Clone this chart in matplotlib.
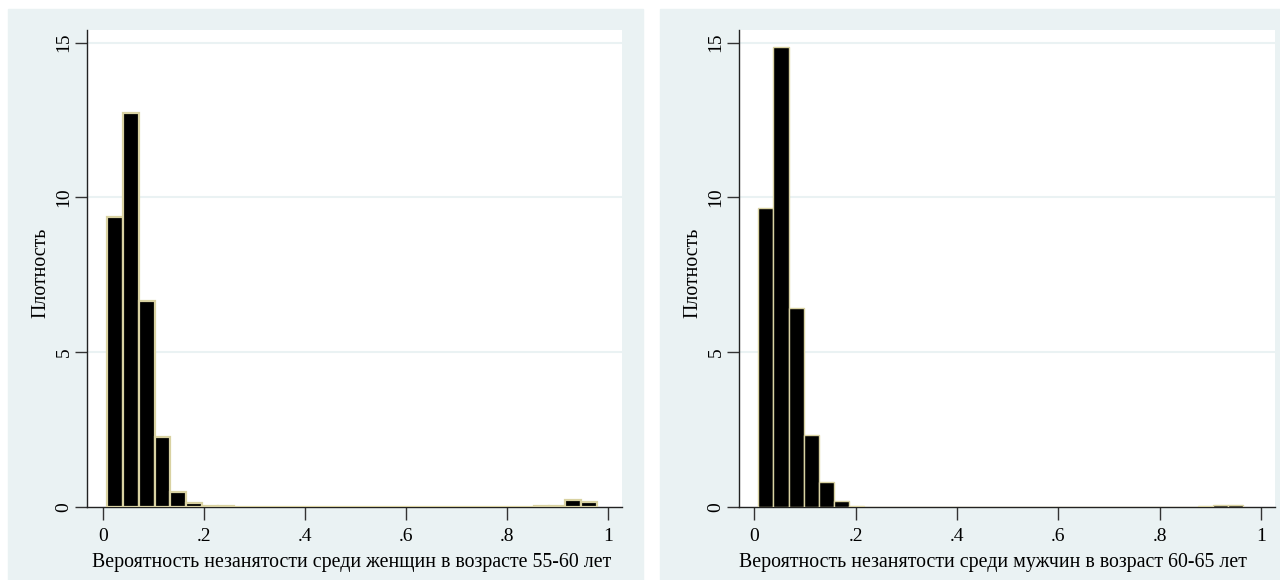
import matplotlib.pyplot as plt
from matplotlib.patches import Rectangle

# histogram data (density)
women_start = 0.0079
women_width = 0.03126
women_dens = [9.36, 12.74, 6.66, 2.27, 0.48, 0.12, 0.03, 0.04,
              0, 0, 0, 0, 0, 0, 0, 0, 0, 0, 0, 0, 0, 0, 0, 0, 0, 0,
              0, 0.02, 0.02, 0.22, 0.15]

men_start = 0.0079
men_width = 0.0299
men_dens = [9.66, 14.85, 6.43, 2.32, 0.80, 0.18, 0.03,
            0, 0, 0, 0, 0, 0, 0, 0, 0, 0, 0, 0, 0, 0, 0, 0, 0, 0,
            0.01, 0, 0.01, 0, 0.02, 0.06, 0.06]

xticks = [0, 0.2, 0.4, 0.6, 0.8, 1]
xticklabels = ["0", ".2", ".4", ".6", ".8", "1"]
yticks = [0, 5, 10, 15]
xlabel_w = "Вероятность незанятости среди женщин в возрасте 55-60 лет"
xlabel_m = "Вероятность незанятости среди мужчин в возраст 60-65 лет"
ylabel = "Плотность"

bg = "#EAF2F3"
edge = "#D9D2A2"
plt.rcParams['font.family'] = ['Liberation Serif', 'DejaVu Serif']
plt.rcParams['font.size'] = 14.3

W, H = 1280, 580
fig = plt.figure(figsize=(12.8, 5.8), dpi=100)
fig.patches.append(Rectangle((8 / W, 0), (643 - 8) / W, 1 - 9 / H,
                             transform=fig.transFigure, color=bg, zorder=-10))
fig.patches.append(Rectangle((660 / W, 0), (W - 660) / W, 1 - 9 / H,
                             transform=fig.transFigure, color=bg, zorder=-10))

bottom = 1 - 507 / H
height = (507 - 30) / H
ax1 = fig.add_axes([87 / W, bottom, (622.3 - 87) / W, height])
ax2 = fig.add_axes([739.3 / W, bottom, (1275 - 739.3) / W, height])

panels = [
    (ax1, women_start, women_width, women_dens, xlabel_w, (-0.0323, 1.0277), 1.6, 0.494),
    (ax2, men_start, men_width, men_dens, xlabel_m, (-0.0296, 1.0276), 1.0, 0.474),
]

for ax, start, width, dens, xlab, xlim, lw, xlx in panels:
    lefts = [start + i * width for i in range(len(dens))]
    ax.bar(lefts, dens, width=width, align='edge', color='black',
           edgecolor=edge, linewidth=lw, zorder=3)
    ax.set_xlim(*xlim)
    ax.set_ylim(0, 15.41)
    ax.set_facecolor('white')
    for y in yticks[1:]:
        ax.axhline(y, color=bg, linewidth=1.5, zorder=1)
    ax.set_xticks(xticks)
    ax.set_xticklabels(xticklabels, fontsize=14)
    ax.set_yticks(yticks)
    ax.set_yticklabels([str(v) for v in yticks], rotation=90, va='center', fontsize=14)
    ax.tick_params(axis='both', length=9, width=1, color='#333333')
    ax.tick_params(axis='x', pad=6)
    ax.tick_params(axis='y', pad=1.5)
    for s in ['top', 'right']:
        ax.spines[s].set_visible(False)
    for s in ['left', 'bottom']:
        ax.spines[s].set_color('#222222')
        ax.spines[s].set_linewidth(1)
    ax.set_xlabel(xlab, va='center')
    ax.set_ylabel(ylabel, va='center')
    ax.xaxis.set_label_coords(xlx, (507 - 563) / 477)
    ax.yaxis.set_label_coords(-46 / 535.5, 0.49)

fig.savefig("out.png", dpi=100)
